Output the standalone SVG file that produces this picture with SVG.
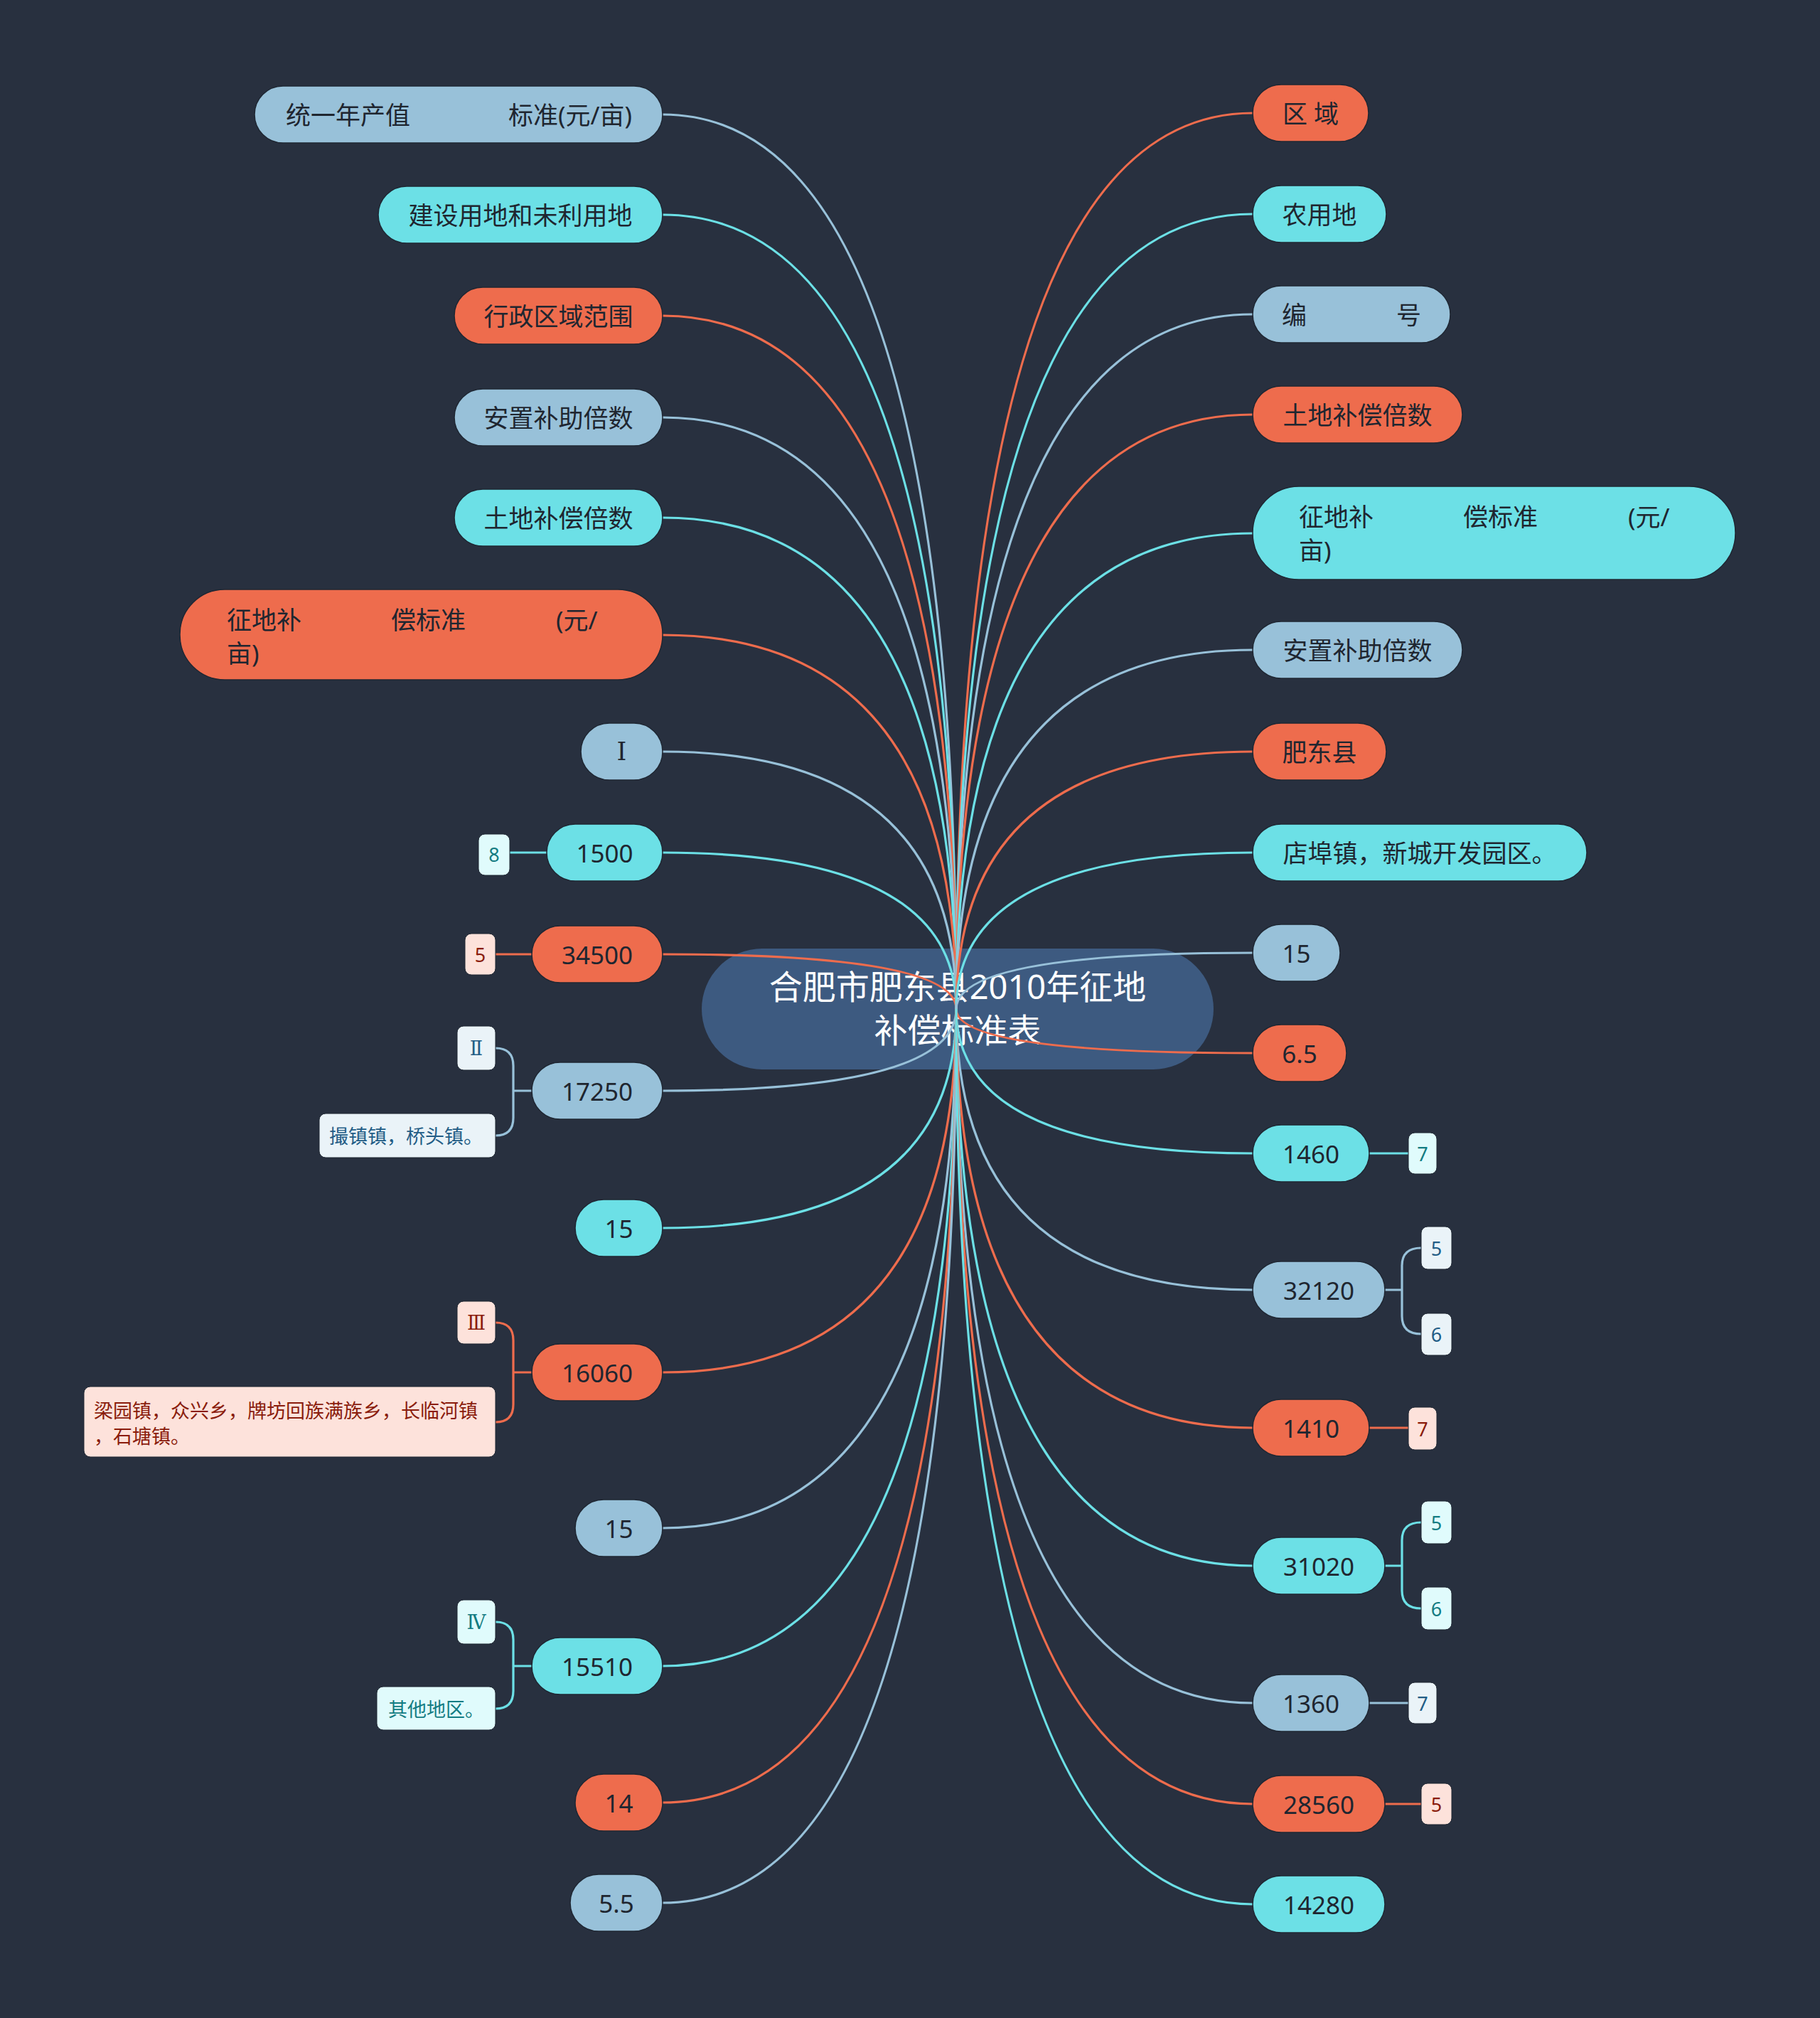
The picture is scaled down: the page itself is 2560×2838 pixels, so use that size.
<svg xmlns="http://www.w3.org/2000/svg" width="2560" height="2838" viewBox="0 0 2560 2838">
<style>
text{font-family:"Noto Sans","Noto Sans CJK SC",sans-serif;dominant-baseline:central}
.n{font-size:35px;fill:#1f2630}
.c{text-anchor:middle}
.rn{font-family:"DejaVu Serif","Liberation Serif","Noto Sans CJK SC",serif}
.or{fill:#ee6c4d}
.cy{fill:#6ce0e6}
.bl{fill:#98c1d9}
.nd{stroke:#1f2733;stroke-width:1.5}
.lo{stroke:#ee6c4d}
.lc{stroke:#6ce0e6}
.lb{stroke:#98c1d9}
#connectors path{fill:none;stroke-width:3.2}
.lab{font-size:27px}
.fo{fill:#fde2db;stroke:#1f2733;stroke-width:1}
.fc{fill:#e0fbfc;stroke:#1f2733;stroke-width:1}
.fb{fill:#eaf3f8;stroke:#1f2733;stroke-width:1}
.to{fill:#8a1c0c}
.tc{fill:#147c82}
.tb{fill:#235d86}
</style>
<rect width="2560" height="2838" fill="#28303f"/>
<g id="root">
<rect x="987" y="1334" width="720" height="170" rx="85" fill="#3d5a80"/>
<text x="1347" y="1387" class="c" font-size="47" fill="#ffffff">合肥市肥东县2010年征地</text>
<text x="1347" y="1448" class="c" font-size="47" fill="#ffffff">补偿标准表</text>
</g>
<g id="connectors">
<path class="lb" d="M932 161Q1345 161 1345 1419"/>
<path class="lc" d="M932 302Q1345 302 1345 1419"/>
<path class="lo" d="M932 444Q1345 444 1345 1419"/>
<path class="lb" d="M932 587Q1345 587 1345 1419"/>
<path class="lc" d="M932 728Q1345 728 1345 1419"/>
<path class="lo" d="M932 893Q1345 893 1345 1419"/>
<path class="lb" d="M932 1057Q1345 1057 1345 1419"/>
<path class="lc" d="M932 1199Q1345 1199 1345 1419"/>
<path class="lo" d="M932 1342Q1345 1342 1345 1419"/>
<path class="lb" d="M932 1534Q1345 1534 1345 1419"/>
<path class="lc" d="M932 1727Q1345 1727 1345 1419"/>
<path class="lo" d="M932 1930Q1345 1930 1345 1419"/>
<path class="lb" d="M932 2149Q1345 2149 1345 1419"/>
<path class="lc" d="M932 2343Q1345 2343 1345 1419"/>
<path class="lo" d="M932 2535Q1345 2535 1345 1419"/>
<path class="lb" d="M932 2676Q1345 2676 1345 1419"/>
<path class="lo" d="M1762 159Q1345 159 1345 1419"/>
<path class="lc" d="M1762 301Q1345 301 1345 1419"/>
<path class="lb" d="M1762 442Q1345 442 1345 1419"/>
<path class="lo" d="M1762 583Q1345 583 1345 1419"/>
<path class="lc" d="M1762 750Q1345 750 1345 1419"/>
<path class="lb" d="M1762 914Q1345 914 1345 1419"/>
<path class="lo" d="M1762 1057Q1345 1057 1345 1419"/>
<path class="lc" d="M1762 1199Q1345 1199 1345 1419"/>
<path class="lb" d="M1762 1340Q1345 1340 1345 1419"/>
<path class="lo" d="M1762 1481Q1345 1481 1345 1419"/>
<path class="lc" d="M1762 1622Q1345 1622 1345 1419"/>
<path class="lb" d="M1762 1814Q1345 1814 1345 1419"/>
<path class="lo" d="M1762 2008Q1345 2008 1345 1419"/>
<path class="lc" d="M1762 2202Q1345 2202 1345 1419"/>
<path class="lb" d="M1762 2395Q1345 2395 1345 1419"/>
<path class="lo" d="M1762 2537Q1345 2537 1345 1419"/>
<path class="lc" d="M1762 2678Q1345 2678 1345 1419"/>
<path class="lc" d="M717 1199H769"/>
<path class="lo" d="M697 1342H748"/>
<path class="lb" d="M748 1534H722M697 1474Q722 1474 722 1499V1572Q722 1597 697 1597"/>
<path class="lo" d="M748 1930H722M697 1860Q722 1860 722 1885V1975Q722 2000 697 2000"/>
<path class="lc" d="M748 2343H722M697 2281Q722 2281 722 2306V2378Q722 2403 697 2403"/>
<path class="lc" d="M1926 1622H1981"/>
<path class="lb" d="M1948 1814H1972M1999 1755Q1972 1755 1972 1780V1851Q1972 1876 1999 1876"/>
<path class="lo" d="M1926 2008H1981"/>
<path class="lc" d="M1948 2202H1972M1999 2141Q1972 2141 1972 2166V2237Q1972 2262 1999 2262"/>
<path class="lb" d="M1926 2395H1981"/>
<path class="lo" d="M1948 2537H1999"/>
</g>
<g id="L1"><rect class="bl nd" x="358" y="121" width="574" height="80" rx="40"/><text class="n" x="402" y="161">统一年产值</text><text class="n" x="715" y="161">标准(元/亩)</text></g>
<g id="L2"><rect class="cy nd" x="532" y="262" width="400" height="80" rx="40"/><text class="n c" x="732" y="302">建设用地和未利用地</text></g>
<g id="L3"><rect class="or nd" x="639" y="404" width="293" height="80" rx="40"/><text class="n c" x="785.5" y="444">行政区域范围</text></g>
<g id="L4"><rect class="bl nd" x="639" y="547" width="293" height="80" rx="40"/><text class="n c" x="785.5" y="587">安置补助倍数</text></g>
<g id="L5"><rect class="cy nd" x="639" y="688" width="293" height="80" rx="40"/><text class="n c" x="785.5" y="728">土地补偿倍数</text></g>
<g id="L6"><rect class="or nd" x="253" y="829" width="679" height="127" rx="63"/><text class="n" x="319" y="871">征地补</text><text class="n" x="550" y="871">偿标准</text><text class="n" x="782" y="871">(元/</text><text class="n" x="319" y="918">亩)</text></g>
<g id="L7"><rect class="bl nd" x="817" y="1017" width="115" height="80" rx="40"/><text class="n c rn" x="874.5" y="1057">Ⅰ</text></g>
<g id="L8"><rect class="cy nd" x="769" y="1159" width="163" height="80" rx="40"/><text class="n c" x="850.5" y="1199">1500</text></g>
<g id="L8a"><rect class="fc" x="673" y="1173" width="44" height="58" rx="9"/><text class="lab tc c" x="695" y="1201">8</text></g>
<g id="L9"><rect class="or nd" x="748" y="1302" width="184" height="80" rx="40"/><text class="n c" x="840" y="1342">34500</text></g>
<g id="L9a"><rect class="fo" x="654" y="1313" width="43" height="58" rx="9"/><text class="lab to c" x="675.5" y="1342">5</text></g>
<g id="L10"><rect class="bl nd" x="748" y="1494" width="184" height="80" rx="40"/><text class="n c" x="840" y="1534">17250</text></g>
<g id="L10a"><rect class="fb" x="643" y="1443" width="54" height="62" rx="9"/><text class="lab tb c rn" x="670" y="1474">Ⅱ</text></g>
<g id="L10b"><rect class="fb" x="449" y="1566" width="248" height="62" rx="9"/><text class="lab tb" x="463" y="1597">撮镇镇，桥头镇。</text></g>
<g id="L11"><rect class="cy nd" x="809" y="1687" width="123" height="80" rx="40"/><text class="n c" x="870.5" y="1727">15</text></g>
<g id="L12"><rect class="or nd" x="748" y="1890" width="184" height="80" rx="40"/><text class="n c" x="840" y="1930">16060</text></g>
<g id="L12a"><rect class="fo" x="643" y="1830" width="54" height="60" rx="9"/><text class="lab to c rn" x="670" y="1860">Ⅲ</text></g>
<g id="L12b"><rect class="fo" x="118" y="1950" width="579" height="99" rx="9"/><text class="lab to" x="132" y="1983">梁园镇，众兴乡，牌坊回族满族乡，长临河镇</text><text class="lab to" x="132" y="2019">，石塘镇。</text></g>
<g id="L13"><rect class="bl nd" x="809" y="2109" width="123" height="80" rx="40"/><text class="n c" x="870.5" y="2149">15</text></g>
<g id="L14"><rect class="cy nd" x="748" y="2303" width="184" height="80" rx="40"/><text class="n c" x="840" y="2343">15510</text></g>
<g id="L14a"><rect class="fc" x="643" y="2250" width="54" height="62" rx="9"/><text class="lab tc c rn" x="670" y="2281">Ⅳ</text></g>
<g id="L14b"><rect class="fc" x="530" y="2372" width="167" height="61" rx="9"/><text class="lab tc" x="546" y="2403">其他地区。</text></g>
<g id="L15"><rect class="or nd" x="809" y="2495" width="123" height="80" rx="40"/><text class="n c" x="870.5" y="2535">14</text></g>
<g id="L16"><rect class="bl nd" x="802" y="2636" width="130" height="80" rx="40"/><text class="n c" x="867" y="2676">5.5</text></g>
<g id="R1"><rect class="or nd" x="1762" y="119" width="163" height="80" rx="40"/><text class="n c" x="1843.5" y="159">区 域</text></g>
<g id="R2"><rect class="cy nd" x="1762" y="261" width="188" height="80" rx="40"/><text class="n c" x="1856" y="301">农用地</text></g>
<g id="R3"><rect class="bl nd" x="1762" y="402" width="278" height="80" rx="40"/><text class="n" x="1803" y="442">编</text><text class="n" x="1964" y="442">号</text></g>
<g id="R4"><rect class="or nd" x="1762" y="543" width="295" height="80" rx="40"/><text class="n c" x="1909.5" y="583">土地补偿倍数</text></g>
<g id="R5"><rect class="cy nd" x="1762" y="684" width="679" height="131" rx="65"/><text class="n" x="1827" y="726">征地补</text><text class="n" x="2058" y="726">偿标准</text><text class="n" x="2290" y="726">(元/</text><text class="n" x="1827" y="773">亩)</text></g>
<g id="R6"><rect class="bl nd" x="1762" y="874" width="295" height="80" rx="40"/><text class="n c" x="1909.5" y="914">安置补助倍数</text></g>
<g id="R7"><rect class="or nd" x="1762" y="1017" width="188" height="80" rx="40"/><text class="n c" x="1856" y="1057">肥东县</text></g>
<g id="R8"><rect class="cy nd" x="1762" y="1159" width="470" height="80" rx="40"/><text class="n c" x="1997" y="1199">店埠镇，新城开发园区。</text></g>
<g id="R9"><rect class="bl nd" x="1762" y="1300" width="123" height="80" rx="40"/><text class="n c" x="1823.5" y="1340">15</text></g>
<g id="R10"><rect class="or nd" x="1762" y="1441" width="132" height="80" rx="40"/><text class="n c" x="1828" y="1481">6.5</text></g>
<g id="R11"><rect class="cy nd" x="1762" y="1582" width="164" height="80" rx="40"/><text class="n c" x="1844" y="1622">1460</text></g>
<g id="R11a"><rect class="fc" x="1981" y="1593" width="40" height="58" rx="9"/><text class="lab tc c" x="2001" y="1622">7</text></g>
<g id="R12"><rect class="bl nd" x="1762" y="1774" width="186" height="80" rx="40"/><text class="n c" x="1855" y="1814">32120</text></g>
<g id="R12a"><rect class="fb" x="1999" y="1725" width="43" height="60" rx="9"/><text class="lab tb c" x="2020.5" y="1755">5</text></g>
<g id="R12b"><rect class="fb" x="1999" y="1847" width="43" height="59" rx="9"/><text class="lab tb c" x="2020.5" y="1876">6</text></g>
<g id="R13"><rect class="or nd" x="1762" y="1968" width="164" height="80" rx="40"/><text class="n c" x="1844" y="2008">1410</text></g>
<g id="R13a"><rect class="fo" x="1981" y="1979" width="40" height="60" rx="9"/><text class="lab to c" x="2001" y="2009">7</text></g>
<g id="R14"><rect class="cy nd" x="1762" y="2162" width="186" height="80" rx="40"/><text class="n c" x="1855" y="2202">31020</text></g>
<g id="R14a"><rect class="fc" x="1999" y="2111" width="43" height="60" rx="9"/><text class="lab tc c" x="2020.5" y="2141">5</text></g>
<g id="R14b"><rect class="fc" x="1999" y="2232" width="43" height="60" rx="9"/><text class="lab tc c" x="2020.5" y="2262">6</text></g>
<g id="R15"><rect class="bl nd" x="1762" y="2355" width="164" height="80" rx="40"/><text class="n c" x="1844" y="2395">1360</text></g>
<g id="R15a"><rect class="fb" x="1981" y="2366" width="40" height="58" rx="9"/><text class="lab tb c" x="2001" y="2395">7</text></g>
<g id="R16"><rect class="or nd" x="1762" y="2497" width="186" height="80" rx="40"/><text class="n c" x="1855" y="2537">28560</text></g>
<g id="R16a"><rect class="fo" x="1999" y="2508" width="43" height="58" rx="9"/><text class="lab to c" x="2020.5" y="2537">5</text></g>
<g id="R17"><rect class="cy nd" x="1762" y="2638" width="186" height="80" rx="40"/><text class="n c" x="1855" y="2678">14280</text></g>
</svg>
